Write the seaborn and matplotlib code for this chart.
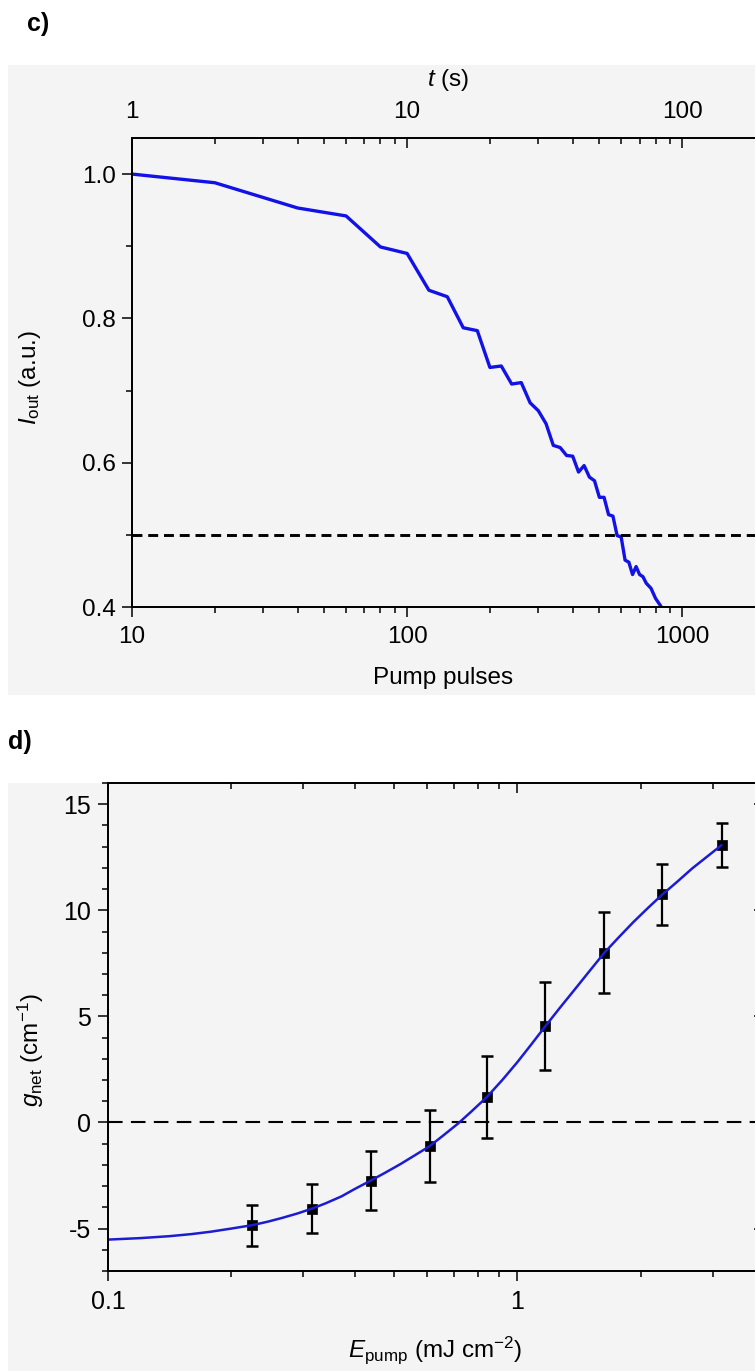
import matplotlib
matplotlib.use("Agg")
import matplotlib.pyplot as plt
import matplotlib.ticker as mticker
from matplotlib.patches import Rectangle
import seaborn as sns
import numpy as np

# ---------------- data ----------------
# panel c: output intensity vs pump pulses
pulses = [10, 20, 40, 60, 80, 100, 120, 140, 160, 180, 200, 220, 240, 260, 280,
          300, 320, 340, 360, 380, 400, 420, 440, 460, 480, 500, 520, 540, 560,
          580, 600, 620, 640, 660, 680, 700, 720, 740, 770, 800, 840]
i_out = [1.000, 0.988, 0.953, 0.942, 0.899, 0.890, 0.839, 0.830, 0.787, 0.783,
         0.732, 0.734, 0.709, 0.711, 0.683, 0.672, 0.654, 0.624, 0.621, 0.610,
         0.609, 0.587, 0.596, 0.580, 0.575, 0.552, 0.552, 0.528, 0.526, 0.499,
         0.497, 0.465, 0.462, 0.445, 0.456, 0.445, 0.442, 0.433, 0.426, 0.412,
         0.400]
half_level = 0.5
pulse_ticks = [10, 100, 1000]
time_ticks = [1, 10, 100]

# panel d: net gain vs pump fluence
e_pump = [0.225, 0.315, 0.438, 0.61, 0.841, 1.17, 1.63, 2.26, 3.15]
g_net = [-4.84, -4.06, -2.74, -1.12, 1.19, 4.54, 8.0, 10.75, 13.07]
g_err = [0.97, 1.15, 1.40, 1.70, 1.94, 2.07, 1.90, 1.43, 1.05]
e_fit = [0.100, 0.120, 0.141, 0.160, 0.178, 0.200, 0.225, 0.245, 0.266, 0.290,
         0.315, 0.340, 0.372, 0.400, 0.438, 0.475, 0.519, 0.560, 0.610, 0.660,
         0.716, 0.770, 0.841, 0.920, 1.00, 1.08, 1.17, 1.27, 1.38, 1.50, 1.63,
         1.77, 1.92, 2.08, 2.26, 2.45, 2.67, 2.90, 3.15]
g_fit = [-5.52, -5.45, -5.36, -5.26, -5.15, -5.00, -4.84, -4.68, -4.50, -4.29,
         -4.06, -3.81, -3.48, -3.14, -2.74, -2.37, -1.95, -1.56, -1.12, -0.60,
         -0.05, 0.50, 1.19, 2.02, 2.85, 3.67, 4.54, 5.41, 6.27, 7.14, 8.00,
         8.74, 9.45, 10.10, 10.75, 11.33, 11.97, 12.52, 13.07]
zero_level = 0.0
e_ticks = [0.1, 1]
g_ticks = [-5, 0, 5, 10, 15]

# ---------------- style ----------------
sns.set_style("ticks")
plt.rcParams["font.family"] = ["Liberation Sans", "DejaVu Sans"]
plt.rcParams["mathtext.fontset"] = "custom"
plt.rcParams["mathtext.rm"] = "Liberation Sans"
plt.rcParams["mathtext.it"] = "Liberation Sans:italic"
plt.rcParams["mathtext.bf"] = "Liberation Sans:bold"
plt.rcParams["axes.unicode_minus"] = False
for key in ["text.color", "axes.labelcolor", "xtick.color", "ytick.color",
            "axes.edgecolor", "xtick.labelcolor", "ytick.labelcolor"]:
    plt.rcParams[key] = "black"

W, H = 755, 1371
fig = plt.figure(figsize=(W / 100, H / 100), dpi=100)
fig.patch.set_facecolor("white")

def fx(px):
    return px / W

def fy(py):
    return 1 - py / H

BG = "#f4f4f4"
fig.patches.append(Rectangle((fx(8), fy(695)), fx(W - 8), (695 - 65) / H,
                             transform=fig.transFigure, facecolor=BG,
                             edgecolor="none", zorder=-5))
fig.patches.append(Rectangle((fx(8), 0), fx(W - 8), (H - 783) / H,
                             transform=fig.transFigure, facecolor=BG,
                             edgecolor="none", zorder=-5))

SPINE_LW = 1.1
MAJ_L, MIN_L = 7.5, 4.0
fmt_g = mticker.FuncFormatter(lambda v, p: "{:g}".format(v))

def style_axes(a):
    a.set_facecolor("none")
    for s in a.spines.values():
        s.set_visible(True)
        s.set_linewidth(SPINE_LW)
        s.set_color("black")

# ---------------- panel c ----------------
axc = fig.add_axes([fx(132), fy(607), fx(765 - 132), (607 - 138) / H])
style_axes(axc)
sns.lineplot(x=pulses, y=i_out, ax=axc, color="#1212e6", linewidth=2.4,
             estimator=None, sort=False)
axc.axhline(half_level, color="black", linewidth=2.1, linestyle=(0, (3.4, 2.0)))
axc.set_xscale("log")
axc.set_xlim(10, 2000)
axc.set_ylim(0.4, 1.05)
axc.xaxis.set_major_locator(mticker.FixedLocator(pulse_ticks))
axc.xaxis.set_major_formatter(fmt_g)
axc.xaxis.set_minor_locator(mticker.LogLocator(base=10, subs=np.arange(2, 10)))
axc.xaxis.set_minor_formatter(mticker.NullFormatter())
axc.yaxis.set_major_locator(mticker.MultipleLocator(0.2))
axc.yaxis.set_major_formatter(mticker.FormatStrFormatter("%.1f"))
axc.yaxis.set_minor_locator(mticker.MultipleLocator(0.1))
axc.tick_params(axis="x", which="both", direction="out", bottom=True, top=False,
                labelsize=17.5, pad=6, width=SPINE_LW)
axc.tick_params(axis="y", which="both", direction="out", left=True, right=False,
                labelsize=17.5, pad=4, width=SPINE_LW)
axc.tick_params(which="major", length=MAJ_L)
axc.tick_params(which="minor", length=MIN_L)
axc.set_xlabel("")
axc.set_ylabel("")

# top time axis
axct = axc.twiny()
style_axes(axct)
axct.set_xscale("log")
axct.set_xlim(1, 200)
axct.xaxis.set_major_locator(mticker.FixedLocator(time_ticks))
axct.xaxis.set_major_formatter(fmt_g)
axct.xaxis.set_minor_locator(mticker.LogLocator(base=10, subs=np.arange(2, 10)))
axct.xaxis.set_minor_formatter(mticker.NullFormatter())
axct.tick_params(axis="x", which="both", direction="in", top=True, bottom=False,
                 labeltop=True, labelbottom=False, labelsize=17.5, pad=11,
                 width=SPINE_LW)
axct.tick_params(which="major", length=MAJ_L)
axct.tick_params(which="minor", length=MIN_L)

# right ticks
axcr = axc.twinx()
style_axes(axcr)
axcr.set_ylim(axc.get_ylim())
axcr.yaxis.set_major_locator(mticker.MultipleLocator(0.2))
axcr.yaxis.set_minor_locator(mticker.NullLocator())
axcr.tick_params(axis="y", direction="in", right=True, left=False,
                 labelright=False, length=MAJ_L, width=SPINE_LW)

fig.text(fx(448), fy(80), r"$t$ (s)", ha="center", va="center", fontsize=17.5)
fig.text(fx(443), fy(684), "Pump pulses", ha="center", va="baseline", fontsize=17.5)
fig.text(fx(30), fy(378), r"$I_{\rm out}$ (a.u.)", rotation=90, ha="center",
         va="center", fontsize=17.5)

# ---------------- panel d ----------------
axd = fig.add_axes([fx(108), fy(1271), fx(764 - 108), (1271 - 783) / H])
style_axes(axd)
axd.axhline(zero_level, color="black", linewidth=1.5, linestyle=(0, (7, 4)))
axd.errorbar(e_pump, g_net, yerr=g_err, fmt="none", ecolor="black",
             elinewidth=1.6, capsize=4.5, capthick=1.8, zorder=3)
sns.scatterplot(x=e_pump, y=g_net, ax=axd, marker="s", s=62, color="black",
                edgecolor="black", linewidth=0.5, zorder=4)
sns.lineplot(x=e_fit, y=g_fit, ax=axd, color="#1c1cd2", linewidth=1.8,
             estimator=None, sort=False, zorder=5)
axd.set_xscale("log")
axd.set_xlim(0.1, 4)
axd.set_ylim(-7, 16)
axd.xaxis.set_major_locator(mticker.FixedLocator(e_ticks))
axd.xaxis.set_major_formatter(fmt_g)
axd.xaxis.set_minor_locator(mticker.LogLocator(base=10, subs=np.arange(2, 10)))
axd.xaxis.set_minor_formatter(mticker.NullFormatter())
axd.yaxis.set_major_locator(mticker.FixedLocator(g_ticks))
axd.yaxis.set_major_formatter(fmt_g)
axd.yaxis.set_minor_locator(mticker.MultipleLocator(1))
axd.tick_params(axis="x", which="both", direction="out", bottom=True, top=False,
                labelsize=18, pad=6.5, width=SPINE_LW)
axd.tick_params(axis="y", which="both", direction="out", left=True, right=False,
                labelsize=18, pad=5, width=SPINE_LW)
axd.tick_params(which="major", length=MAJ_L)
axd.tick_params(which="minor", length=MIN_L)
axd.set_xlabel("")
axd.set_ylabel("")

axdt = axd.twiny()
style_axes(axdt)
axdt.set_xscale("log")
axdt.set_xlim(axd.get_xlim())
axdt.xaxis.set_major_locator(mticker.FixedLocator(e_ticks))
axdt.xaxis.set_minor_locator(mticker.LogLocator(base=10, subs=np.arange(2, 10)))
axdt.xaxis.set_minor_formatter(mticker.NullFormatter())
axdt.tick_params(axis="x", which="both", direction="in", top=True, bottom=False,
                 labeltop=False, labelbottom=False, width=SPINE_LW)
axdt.tick_params(which="major", length=MAJ_L)
axdt.tick_params(which="minor", length=MIN_L)

axdr = axd.twinx()
style_axes(axdr)
axdr.set_ylim(axd.get_ylim())
axdr.yaxis.set_major_locator(mticker.FixedLocator(g_ticks))
axdr.yaxis.set_minor_locator(mticker.NullLocator())
axdr.tick_params(axis="y", direction="in", right=True, left=False,
                 labelright=False, length=MAJ_L, width=SPINE_LW)

fig.text(fx(435), fy(1357), r"$E_{\rm pump}$ (mJ cm$^{-2}$)", ha="center",
         va="baseline", fontsize=17.5)
fig.text(fx(31), fy(1050), r"$g_{\rm net}$ (cm$^{-1}$)", rotation=90,
         ha="center", va="center", fontsize=17.5)

# panel letters
fig.text(fx(38), fy(24), "c)", ha="center", va="center", fontsize=18,
         fontweight="bold", family="Liberation Sans")
fig.text(fx(20), fy(742), "d)", ha="center", va="center", fontsize=18,
         fontweight="bold", family="Liberation Sans")

fig.savefig("out.png", dpi=100)
